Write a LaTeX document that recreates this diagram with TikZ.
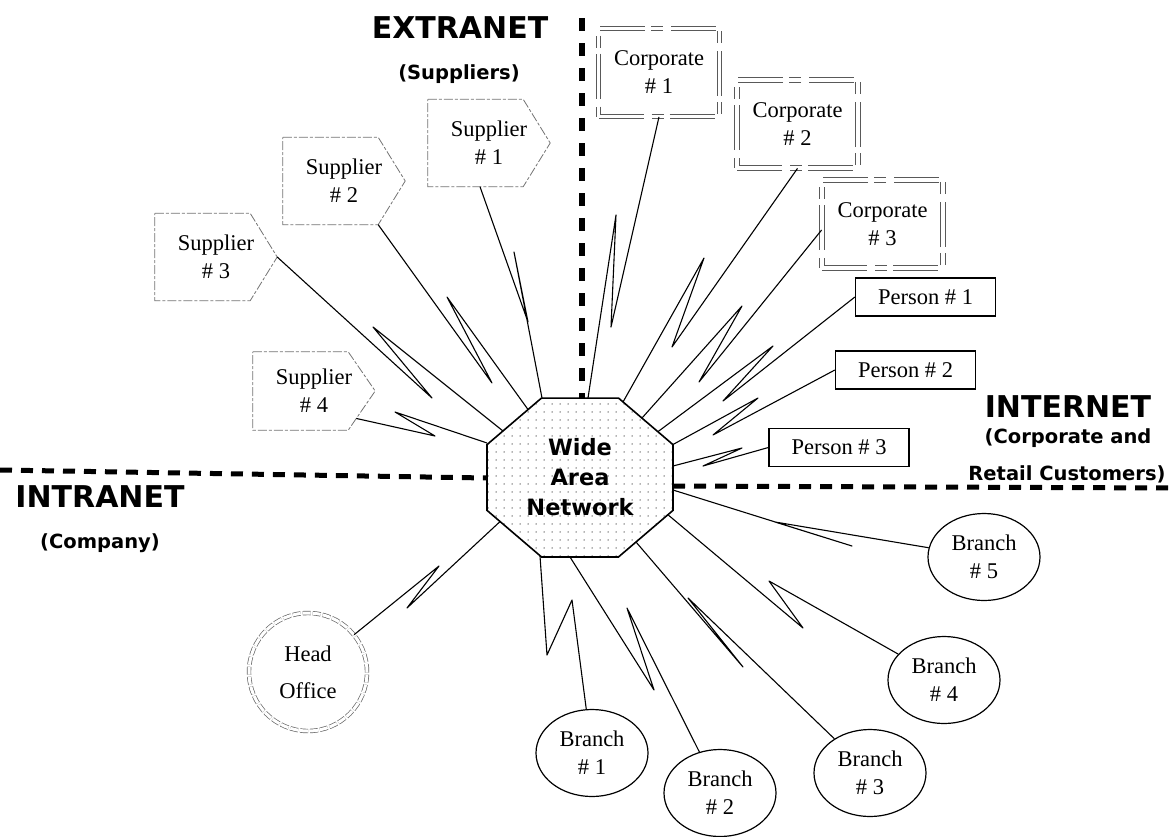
\documentclass[tikz,border=0pt]{standalone}
\usepackage{fontspec}
\setmainfont{Liberation Serif}
\newfontfamily\labfont{DejaVu Sans}
\usetikzlibrary{calc,shapes.geometric,patterns.meta}
% lightning link: node -> first kink -> second kink -> point on the WAN border
\newcommand{\zbolt}[4]{\draw[link] (#1) -- (#2) -- (#3) -- (#4);}
\newcommand{\supout}[1]{\draw[supline] (#1.north west) -- ([xshift=-27pt]#1.north east) -- (#1.east) -- ([xshift=-27pt]#1.south east) -- (#1.south west) -- cycle;}
\tikzset{
 serif/.style={font=\fontsize{22.5pt}{28pt}\selectfont, align=center},
 supplier/.style={serif, minimum width=122pt, minimum height=87pt, inner sep=0pt},
 supline/.style={draw=black!55, line width=0.8pt, dash pattern=on 9pt off 2pt on 3pt off 2pt},
 corp/.style={serif, minimum width=121pt, minimum height=88pt, inner sep=0pt, draw=black!65, line width=0.8pt, double, double distance=3.5pt, dash pattern=on 45pt off 8pt on 12pt off 6pt},
 person/.style={serif, draw, line width=1.3pt, minimum width=140pt, minimum height=38pt, inner sep=0pt},
 branch/.style={serif, ellipse, draw, line width=1.2pt, minimum width=112pt, minimum height=87pt, inner sep=0pt},
 head/.style={font=\fontsize{22.5pt}{37pt}\selectfont, align=center, circle, draw=black!60, line width=0.7pt, double, double distance=3pt, dash pattern=on 8pt off 2pt, minimum size=118pt, inner sep=0pt},
 wanbox/.style={regular polygon, regular polygon sides=8, minimum size=172pt, inner sep=0pt, xscale=1.17, transform shape, draw, line width=1.6pt, pattern={Dots[distance=8pt,radius=0.75pt]}, pattern color=black!60},
 wantext/.style={align=center, font=\labfont\bfseries\fontsize{22.5pt}{30pt}\selectfont},
 link/.style={line width=1.1pt, line join=round},
 divider/.style={line width=6pt, dash pattern=on 13pt off 12pt},
 big/.style={font=\labfont\bfseries\fontsize{30pt}{34pt}\selectfont},
 sub/.style={font=\labfont\bfseries\fontsize{19.5pt}{36pt}\selectfont, align=center},
}
\begin{document}
\begin{tikzpicture}[x=1pt,y=-1pt]
\useasboundingbox (0,0) rectangle (1173,836);
% dividers
\draw[divider] (582,18) -- (582,398);
\draw[divider, line width=5pt, dash pattern=on 12pt off 9pt] (0,470) -- (487,478);
\draw[divider, line width=5pt, dash pattern=on 12pt off 9pt] (673,486) -- (1173,488);
% labels
\node[big] (lext) at (460,28) {EXTRANET};
\node[sub] (lsup) at (459,74) {(Suppliers)};
\node[big] (lintra) at (100,497) {INTRANET};
\node[sub] (lcomp) at (100,543) {(Company)};
\node[big] (linter) at (1068,407) {INTERNET};
\node[sub] (lcorp) at (1068,438) {(Corporate and};
\node[sub] (lret) at (1067,474) {Retail Customers)};
% centre
\node[wanbox] (wan) at (580,477.5) {};
\node[wantext] (wantxt) at (wan.center) {Wide\\Area\\Network};
% suppliers
\node[supplier] (s1) at (489,143) {Supplier\\\# 1};
\node[supplier] (s2) at (344,181) {Supplier\\\# 2};
\node[supplier] (s3) at (216,257) {Supplier\\\# 3};
\node[supplier, minimum height=78pt] (s4) at (314,391) {Supplier\\\# 4};
\supout{s1}\supout{s2}\supout{s3}\supout{s4}
% corporates
\node[corp] (c1) at (659,72.5) {Corporate\\\# 1};
\node[corp] (c2) at (797.5,124) {Corporate\\\# 2};
\node[corp] (c3) at (882.5,224) {Corporate\\\# 3};
% persons
\node[person] (p1) at (925.5,297) {Person \# 1};
\node[person] (p2) at (905.5,370) {Person \# 2};
\node[person] (p3) at (839,447.5) {Person \# 3};
% branches
\node[branch] (b1) at (592,753) {Branch\\\# 1};
\node[branch] (b2) at (720,793) {Branch\\\# 2};
\node[branch] (b3) at (870,773) {Branch\\\# 3};
\node[branch] (b4) at (944,680) {Branch\\\# 4};
\node[branch] (b5) at (984,557) {Branch\\\# 5};
\node[head] (ho) at (308,672) {Head\\Office};
% start points on the supplier outlines
\coordinate (s1a) at ([xshift=-9pt]s1.south);
\coordinate (s2a) at ([xshift=-27pt]s2.south east);
\coordinate (s4a) at ($(s4.east)!0.7!([xshift=-27pt]s4.south east)$);
\coordinate (c3a) at ([yshift=-6pt]c3.west);
% end points on the WAN border
\coordinate (w1) at (542,398);   \coordinate (w2) at (528,409.5);
\coordinate (w3) at (503,431);   \coordinate (w4) at (487,443);
\coordinate (w5) at (588,398);   \coordinate (w6) at (623,402);
\coordinate (w7) at (642,418);   \coordinate (w8) at (658,431.6);
\coordinate (w9) at (673,444.5); \coordinate (w10) at (673,466);
\coordinate (w11) at (673,490);  \coordinate (w12) at (668,514.8);
\coordinate (w13) at (636,542);  \coordinate (w14) at (570,557);
\coordinate (w15) at (540,556);  \coordinate (w16) at (500,521.6);
% lightning kinks
\coordinate (u1) at (528,322); \coordinate (v1) at (514,252);
\coordinate (u2) at (492,383); \coordinate (v2) at (447,297);
\coordinate (u3) at (432,398); \coordinate (v3) at (373,327);
\coordinate (u4) at (435,436); \coordinate (v4) at (395,412);
\coordinate (u5) at (611,327); \coordinate (v5) at (616,215);
\coordinate (u6) at (672,347); \coordinate (v6) at (704,258);
\coordinate (u7) at (699,382); \coordinate (v7) at (742,306);
\coordinate (u8) at (723,401); \coordinate (v8) at (773,346);
\coordinate (u9) at (713,435); \coordinate (v9) at (758,398);
\coordinate (u10) at (703,466); \coordinate (v10) at (742,448);
\coordinate (u11) at (775,522); \coordinate (v11) at (852,546);
\coordinate (u12) at (769,581); \coordinate (v12) at (803,628);
\coordinate (u13) at (688,598); \coordinate (v13) at (743,667);
\coordinate (u14) at (627,608); \coordinate (v14) at (654,690);
\coordinate (u15) at (572,600); \coordinate (v15) at (547,655);
\coordinate (u16) at (439,566); \coordinate (v16) at (407,608);
% links
\zbolt{s1a}{u1}{v1}{w1}
\zbolt{s2a}{u2}{v2}{w2}
\zbolt{s3.east}{u3}{v3}{w3}
\zbolt{s4a}{u4}{v4}{w4}
\zbolt{c1.south}{u5}{v5}{w5}
\zbolt{c2.south}{u6}{v6}{w6}
\zbolt{c3a}{u7}{v7}{w7}
\zbolt{p1.west}{u8}{v8}{w8}
\zbolt{p2.west}{u9}{v9}{w9}
\zbolt{p3.west}{u10}{v10}{w10}
\zbolt{b5}{u11}{v11}{w11}
\zbolt{b4}{u12}{v12}{w12}
\zbolt{b3}{u13}{v13}{w13}
\zbolt{b2}{u14}{v14}{w14}
\zbolt{b1}{u15}{v15}{w15}
\zbolt{ho}{u16}{v16}{w16}
\end{tikzpicture}
\end{document}
